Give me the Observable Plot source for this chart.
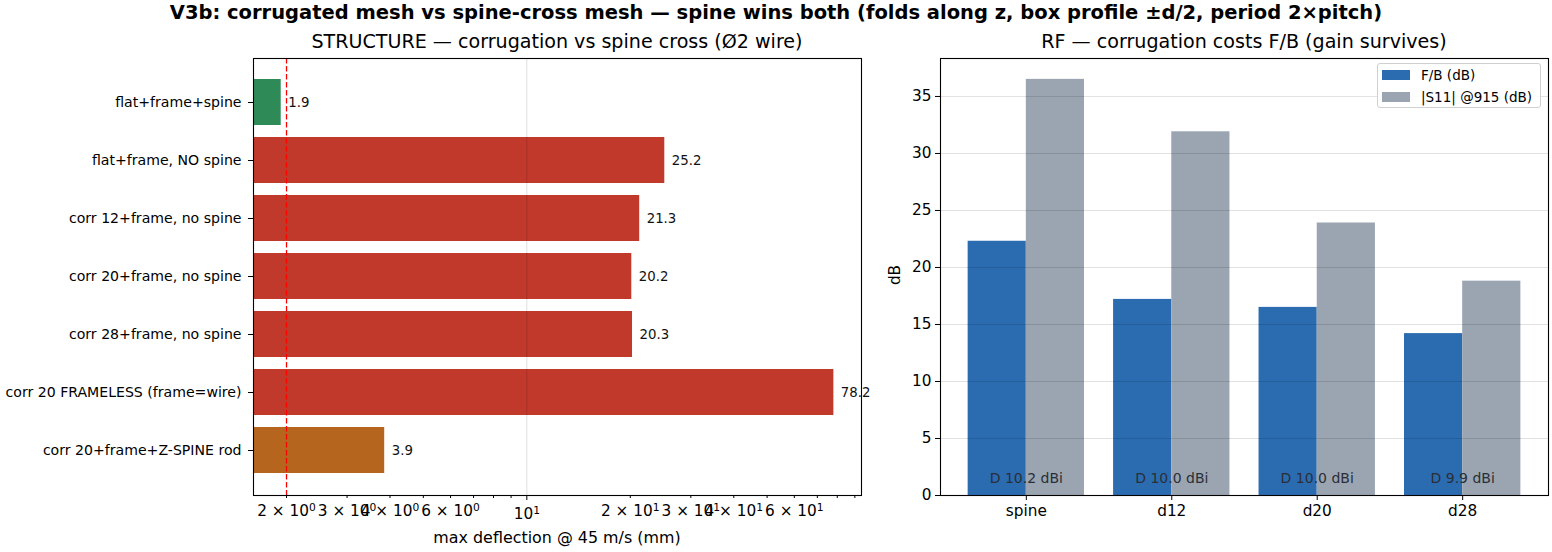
<!DOCTYPE html>
<html>
<head>
<meta charset="utf-8">
<script src="https://cdn.jsdelivr.net/npm/d3@7"></script>
<script src="https://cdn.jsdelivr.net/npm/@observablehq/plot@0.6"></script>
<style>
  html, body { margin: 0; padding: 0; background: #fff; }
  #fig { position: relative; width: 1552px; height: 552px; background: #fff; font-family: "DejaVu Sans", sans-serif; color: #000; overflow: hidden; }
  .abs { position: absolute; white-space: nowrap; }
  .sub { font-size: 19.1px; text-align: center; }
  .leg-item { display: flex; align-items: center; height: 22px; font-size: 13.5px; }
  .sw { width: 28px; height: 9.5px; margin-right: 11px; }
</style>
</head>
<body>
<div id="fig">
  <div class="abs" id="suptitle" style="left:0;width:1552px;top:1px;text-align:center;font-weight:bold;font-size:19.5px;"></div>
  <div class="abs sub" id="lt" style="left:253px;width:608px;top:30px;"></div>
  <div class="abs sub" id="rt" style="left:940px;width:608px;top:30px;"></div>
  <div class="abs" id="left" style="left:0;top:50px;"></div>
  <div class="abs" id="right" style="left:870px;top:50px;"></div>
  <div class="abs" id="xlab" style="left:253px;width:608px;top:528px;text-align:center;font-size:15.9px;"></div>
  <div class="abs" id="ylab" style="left:880px;top:266px;width:30px;text-align:center;font-size:15.3px;transform:rotate(-90deg);"></div>
  <div class="abs" id="legend" style="left:1377px;top:63px;width:164px;height:45px;border:1px solid #d0d0d0;border-radius:3px;background:rgba(255,255,255,0.85);padding:0 0 0 4px;box-sizing:border-box;"></div>
</div>
<script>
// ---------- text ----------
const suptitle = "V3b: corrugated mesh vs spine-cross mesh — spine wins both (folds along z, box profile ±d/2, period 2×pitch)";
const leftTitle = "STRUCTURE — corrugation vs spine cross (Ø2 wire)";
const rightTitle = "RF — corrugation costs F/B (gain survives)";
const leftXLabel = "max deflection @ 45 m/s (mm)";
const rightYLabel = "dB";

// ---------- left panel data ----------
const structLabels = [
  "flat+frame+spine",
  "flat+frame, NO spine",
  "corr 12+frame, no spine",
  "corr 20+frame, no spine",
  "corr 28+frame, no spine",
  "corr 20 FRAMELESS (frame=wire)",
  "corr 20+frame+Z-SPINE rod"
];
const deflection = [1.93, 25.2, 21.3, 20.2, 20.3, 78.2, 3.86];
const structColors = ["#2e8b57", "#c0392b", "#c0392b", "#c0392b", "#c0392b", "#c0392b", "#b5651d"];
const targetDeflection = [2];
const majorTicks = [10];
const labeledMinorTicks = [2, 3, 4, 6, 20, 30, 40, 60];
const unlabeledMinorTicks = [5, 7, 8, 9, 50, 70, 80, 90];
const xTickLabels = {2: "2 × 10⁰", 3: "3 × 10⁰", 4: "4 × 10⁰", 6: "6 × 10⁰", 10: "10¹",
                     20: "2 × 10¹", 30: "3 × 10¹", 40: "4 × 10¹", 60: "6 × 10¹"};

// ---------- right panel data ----------
const variants = ["spine", "d12", "d20", "d28"];
const fbValues = [22.3, 17.2, 16.5, 14.2];
const s11Values = [36.5, 31.9, 23.9, 18.8];
const directivity = [10.2, 10.0, 10.0, 9.9];
const yTicksRight = [0, 5, 10, 15, 20, 25, 30, 35];
const seriesNames = ["F/B (dB)", "|S11| @915 (dB)"];
const seriesColors = ["#2b6cb0", "#9aa5b1"];

// ---------- titles ----------
document.getElementById("suptitle").textContent = suptitle;
document.getElementById("lt").textContent = leftTitle;
document.getElementById("rt").textContent = rightTitle;
document.getElementById("xlab").textContent = leftXLabel;
document.getElementById("ylab").textContent = rightYLabel;

const svgStyle = {fontFamily: "DejaVu Sans, sans-serif", fontSize: "13.9px", background: "transparent", overflow: "visible", color: "#000"};

// ---------- left panel ----------
const structRows = structLabels.map((label, i) => ({label, value: deflection[i], color: structColors[i]}));
const xDomain = [1.603, 94.1];

const leftPlot = Plot.plot({
  width: 870, height: 502,
  marginLeft: 253, marginRight: 9, marginTop: 8, marginBottom: 57,
  style: svgStyle,
  x: {type: "log", domain: xDomain},
  y: {domain: structLabels, paddingInner: 0.2, paddingOuter: 0.34},
  marks: [
    Plot.barX(structRows, {x1: () => xDomain[0], x2: "value", y: "label", fill: "color"}),
    Plot.ruleX(majorTicks, {stroke: "#000", strokeOpacity: 0.13, strokeWidth: 1}),
    Plot.ruleX(targetDeflection, {stroke: "red", strokeWidth: 1.3, strokeDasharray: "5.5,2.5"}),
    Plot.text(structRows, {x: "value", y: "label", text: d => d.value.toFixed(1), dx: 7, textAnchor: "start", fontSize: 13.3, fill: "#111"}),
    Plot.frame({stroke: "#000", strokeWidth: 1.1}),
    Plot.axisY({tickSize: 5, tickPadding: 7, fontSize: 14.1, label: null, tickFormat: d => d}),
    Plot.axisX({ticks: majorTicks, tickSize: 5, label: null, tickFormat: () => ""}),
    Plot.axisX({ticks: labeledMinorTicks.concat(unlabeledMinorTicks), tickSize: 3, label: null, tickFormat: () => ""}),
    Plot.text(majorTicks, {x: d => d, frameAnchor: "bottom", dy: 23, text: d => xTickLabels[d], fontSize: 15.3, fill: "#000"}),
    Plot.text(labeledMinorTicks, {x: d => d, frameAnchor: "bottom", dy: 20, text: d => xTickLabels[d], fontSize: 15.3, fill: "#000"})
  ]
});
// render the 10^n exponents as real superscripts
leftPlot.querySelectorAll("text").forEach(t => {
  const m = /^(.*10)([⁰¹])$/.exec(t.textContent);
  if (!m) return;
  const sup = {"⁰": "0", "¹": "1"}[m[2]];
  t.textContent = "";
  t.appendChild(document.createTextNode(m[1]));
  const ts = document.createElementNS("http://www.w3.org/2000/svg", "tspan");
  ts.setAttribute("dy", "-0.45em");
  ts.setAttribute("font-size", "70%");
  ts.textContent = sup;
  t.appendChild(ts);
});
document.getElementById("left").appendChild(leftPlot);

// ---------- right panel ----------
const rfRows = variants.map((v, i) => ({v, i, fb: fbValues[i], s11: s11Values[i], d: directivity[i]}));
const barW = 0.4;

const rightPlot = Plot.plot({
  width: 682, height: 502,
  marginLeft: 70, marginRight: 4, marginTop: 8, marginBottom: 57,
  style: svgStyle,
  x: {domain: [-0.59, 3.59]},
  y: {domain: [0, 38.33]},
  marks: [
    Plot.rectY(rfRows, {x1: d => d.i - barW, x2: d => d.i, y1: 0, y2: "fb", fill: seriesColors[0]}),
    Plot.rectY(rfRows, {x1: d => d.i, x2: d => d.i + barW, y1: 0, y2: "s11", fill: seriesColors[1]}),
    Plot.gridY(yTicksRight, {stroke: "#000", strokeOpacity: 0.12, strokeWidth: 1}),
    Plot.text(rfRows, {x: "i", y: 1.5, text: d => `D ${d.d.toFixed(1)} dBi`, fontSize: 14, fill: "#2a2e38"}),
    Plot.frame({stroke: "#000", strokeWidth: 1.1}),
    Plot.axisY({ticks: yTicksRight, tickSize: 5, tickPadding: 4, fontSize: 15.3, label: null}),
    Plot.axisX({ticks: [0, 1, 2, 3], tickSize: 5, tickPadding: 5, fontSize: 15.3, label: null, tickFormat: i => variants[i]})
  ]
});
document.getElementById("right").appendChild(rightPlot);

// ---------- legend ----------
const legend = document.getElementById("legend");
seriesNames.forEach((name, i) => {
  const item = document.createElement("div");
  item.className = "leg-item";
  const sw = document.createElement("div");
  sw.className = "sw";
  sw.style.background = seriesColors[i];
  const t = document.createElement("span");
  t.textContent = name;
  item.appendChild(sw); item.appendChild(t);
  legend.appendChild(item);
});
</script>
</body>
</html>
